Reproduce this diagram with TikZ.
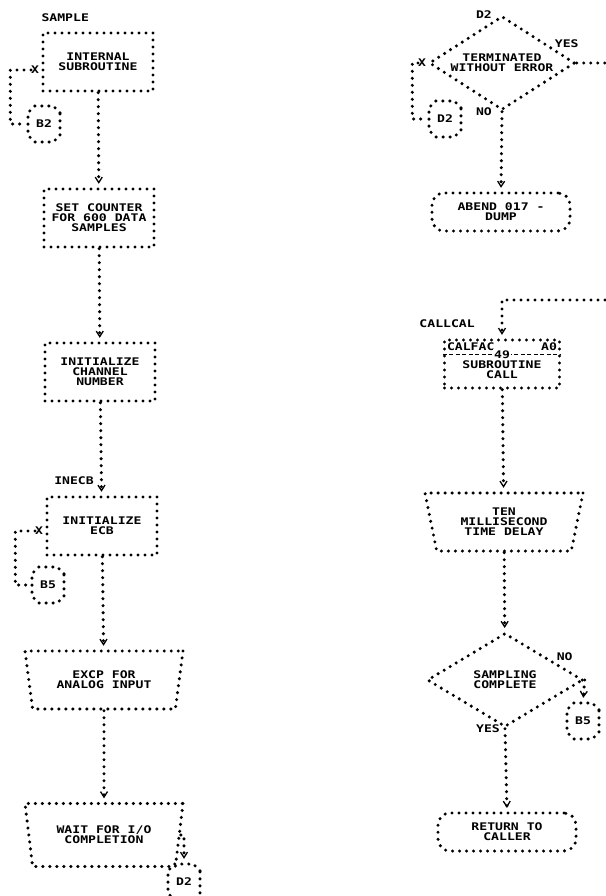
\documentclass[tikz,border=0pt]{standalone}
\usepackage{fontspec}
\newfontfamily\lpfont[FakeStretch=1.25]{DejaVu Sans Mono}
\usetikzlibrary{arrows.meta, positioning, calc, shapes.geometric, shapes.misc}

\tikzset{
  dotline/.style={dash pattern=on 0pt off 7pt, line cap=round, line width=3.4pt},
  flow/.style={dotline, -{Straight Barb[length=5.5pt, width=7pt, line width=1.3pt]}, shorten >=3.5pt},
  lbl/.style={font=\lpfont\bfseries\fontsize{10.5}{10}\selectfont, inner sep=0pt, align=center},
  procbox/.style={draw, dotline, rectangle, minimum width=110pt, minimum height=58pt, lbl},
  iobox/.style={draw, dotline, trapezium, trapezium left angle=67, trapezium right angle=67,
    shape border rotate=180, trapezium stretches body, minimum width=158pt, minimum height=58pt, lbl},
  termbox/.style={draw, dotline, rounded corners=12pt, minimum width=138pt, minimum height=38pt, lbl},
  decide/.style={draw, dotline, diamond, aspect=1.55, minimum width=146pt, minimum height=94pt, lbl},
  conn/.style={draw, dotline, chamfered rectangle, chamfered rectangle xsep=8pt,
    minimum width=32pt, minimum height=36pt, lbl}
}

\begin{document}
\begin{tikzpicture}[x=1pt, y=-1pt]
  \useasboundingbox (0,0) rectangle (605,896);

  % left column
  \node[procbox] (sub) at (98,62) {INTERNAL\\SUBROUTINE};
  \node[lbl, above right=9pt and 0pt of sub.north west] (sample) {SAMPLE};
  \node[procbox] (count) at (99,218) {SET COUNTER\\FOR 600 DATA\\SAMPLES};
  \node[procbox] (chan) at (100,372) {INITIALIZE\\CHANNEL\\NUMBER};
  \node[procbox] (ecb) at (102,526) {INITIALIZE\\ECB};
  \node[lbl, above left=10pt and 8pt of ecb.north] (inecb) {INECB};
  \node[iobox] (excp) at (104,680) {EXCP FOR\\ANALOG INPUT};
  \node[iobox, minimum height=63pt] (wait) at (104,835) {WAIT FOR I/O\\COMPLETION};

  \node[conn] (b2) at (44,124) {B2};
  \node[conn] (b5a) at (48,585) {B5};
  \node[conn] (d2b) at (184,882) {D2};
  \node[lbl, left=2pt of sub.west, yshift=-8pt] (subx) {X};
  \node[lbl, left=2pt of ecb.west, yshift=-5pt] (ecbx) {X};

  \draw[flow] (sub) -- (count);
  \draw[flow] (count) -- (chan);
  \draw[flow] (chan) -- (ecb);
  \draw[flow] (ecb) -- (excp);
  \draw[flow] (excp) -- (wait);
  \draw[dotline] (subx.west) -| ([xshift=-16pt]b2.west) -- (b2.west);
  \draw[dotline] (ecbx.west) -| ([xshift=-15pt]b5a.west) -- (b5a.west);
  \draw[flow] (wait.east) -| (d2b.north);

  % right column
  \node[decide] (term) at (502,63) {TERMINATED\\WITHOUT ERROR};
  \node[lbl, left=10pt of term.north] (d2in) {D2};
  \node[lbl] (termyes) at ($(term.east)+(-10,-19)$) {YES};
  \node[lbl, left=10pt of term.south] (termno) {NO};
  \node[lbl, left=1pt of term.west] (termx) {X};
  \node[conn] (d2a) at (445,119) {D2};
  \coordinate (yesout) at (605,63);
  \draw[dotline] (term.east) -- (yesout);
  \draw[dotline] (termx.west) -| ([xshift=-15pt]d2a.west) -- (d2a.west);
  \node[termbox] (abend) at (501,212) {ABEND 017 -\\DUMP};
  \draw[flow] (term.south) -- (abend.north);

  \coordinate (calin) at (605,300);
  \node[procbox, minimum width=115pt, minimum height=48pt] (calfac) at (502,364) {};
  \node[lbl, above left=10pt and 27pt of calfac.north] (callcal) {CALLCAL};
  \draw[flow] (calin) -| (calfac.north);
  \node[lbl, anchor=north west] (calname) at ([shift={(4pt,-4pt)}]calfac.north west) {CALFAC};
  \node[lbl, anchor=north east] (calid) at ([shift={(-4pt,-4pt)}]calfac.north east) {A0};
  \draw[dash pattern=on 4pt off 2.5pt, line width=1pt]
    ([yshift=-16pt]calfac.north west) -- ([yshift=-16pt]calfac.north east)
    node[midway, lbl, fill=white, inner sep=1pt] (calnum) {49};
  \node[lbl] (calsub) at ([yshift=-6pt]calfac.center) {SUBROUTINE\\CALL};

  \node[iobox] (delay) at (504,522) {TEN\\MILLISECOND\\TIME DELAY};
  \draw[flow] (calfac) -- (delay);
  \node[decide, minimum width=156pt] (samp) at (505,680) {SAMPLING\\COMPLETE};
  \draw[flow] (delay) -- (samp);
  \node[lbl] (sampno) at ($(samp.east)+(-20,-23)$) {NO};
  \node[conn] (b5b) at (583,721) {B5};
  \draw[flow] (samp.east) -- (b5b.north);
  \node[lbl, left=5pt of samp.south] (sampyes) {YES};
  \node[termbox] (ret) at (507,832) {RETURN TO\\CALLER};
  \draw[flow] (samp.south) -- (ret.north);
\end{tikzpicture}
\end{document}
